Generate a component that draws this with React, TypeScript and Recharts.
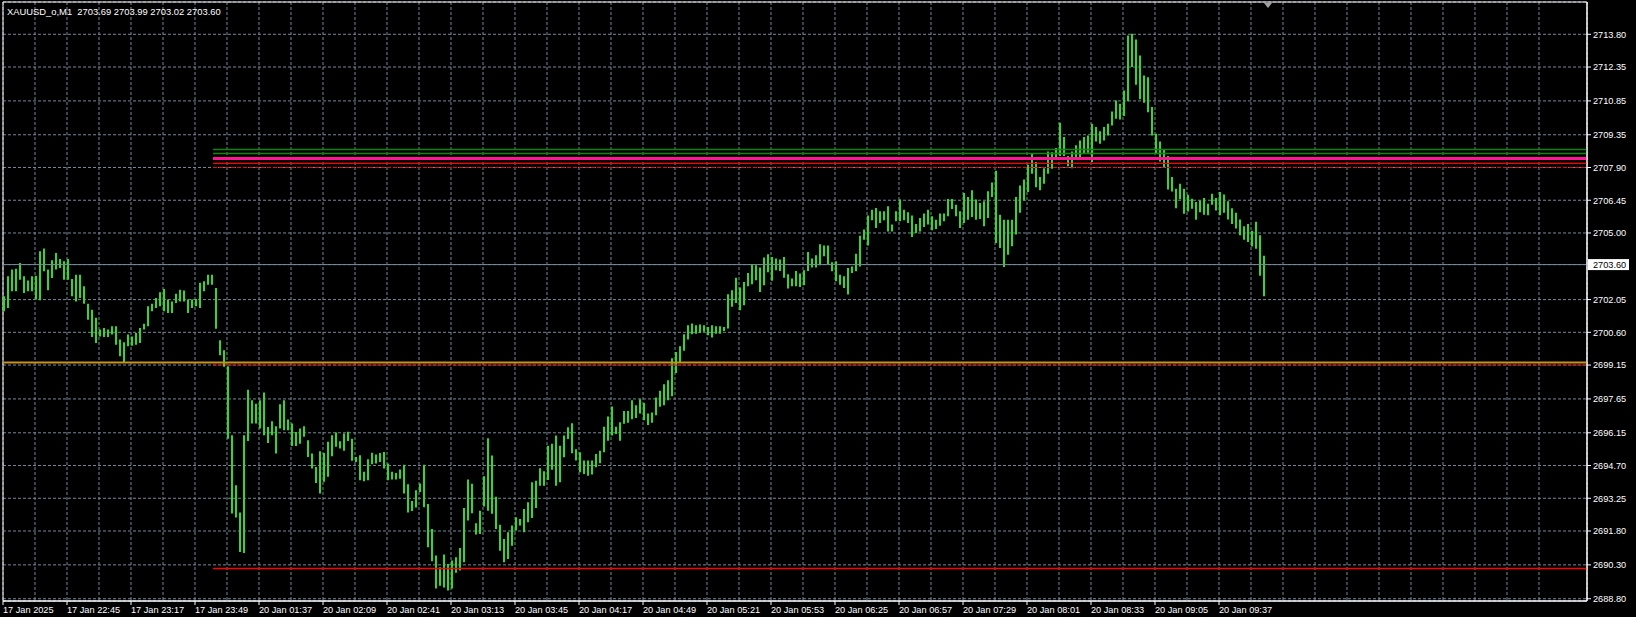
import React from 'react'
import { ComposedChart, Bar, XAxis, YAxis, CartesianGrid, ReferenceLine, ReferenceArea, ReferenceDot } from 'recharts'

const symbolTitle = 'XAUUSD_o,M1  2703.69 2703.99 2703.02 2703.60'

// one label every 32 M1 bars
const timeLabels = [
  '17 Jan 2025', '17 Jan 22:45', '17 Jan 23:17', '17 Jan 23:49', '20 Jan 01:37',
  '20 Jan 02:09', '20 Jan 02:41', '20 Jan 03:13', '20 Jan 03:45', '20 Jan 04:17',
  '20 Jan 04:49', '20 Jan 05:21', '20 Jan 05:53', '20 Jan 06:25', '20 Jan 06:57',
  '20 Jan 07:29', '20 Jan 08:01', '20 Jan 08:33', '20 Jan 09:05', '20 Jan 09:37',
]

const priceTicks = [
  2688.8, 2690.3, 2691.8, 2693.25, 2694.7, 2696.15, 2697.65, 2699.15, 2700.6,
  2702.05, 2703.6, 2705.0, 2706.45, 2707.9, 2709.35, 2710.85, 2712.35, 2713.8,
]
const bidPrice = 2703.6

// high / low of each pair of M1 bars, left to right
const highs = [
  2702.20, 2703.08, 2703.38, 2703.41, 2703.67, 2703.08, 2702.90, 2703.08, 2703.11, 2704.19,
  2704.31, 2703.38, 2703.79, 2704.11, 2703.85, 2703.75, 2703.85, 2702.96, 2703.15, 2703.15,
  2702.64, 2701.87, 2701.60, 2701.24, 2700.72, 2700.79, 2700.72, 2700.87, 2700.87, 2700.28,
  2700.16, 2700.50, 2700.42, 2700.57, 2700.79, 2700.98, 2701.75, 2701.87, 2702.12, 2702.37,
  2702.52, 2702.05, 2701.97, 2702.31, 2702.49, 2702.45, 2702.05, 2702.05, 2702.08, 2702.79,
  2702.86, 2703.15, 2703.15, 2702.56, 2700.25, 2699.81, 2699.10, 2696.04, 2693.83, 2692.62,
  2696.04, 2698.06, 2697.59, 2697.44, 2697.59, 2697.93, 2696.41, 2696.66, 2696.44, 2697.41,
  2697.59, 2696.74, 2696.56, 2696.19, 2696.34, 2696.44, 2695.82, 2695.23, 2694.64, 2695.33,
  2695.26, 2695.75, 2696.04, 2696.16, 2695.78, 2696.12, 2696.20, 2695.89, 2695.08, 2695.16,
  2694.42, 2694.98, 2695.27, 2695.19, 2695.26, 2695.30, 2694.79, 2694.42, 2694.37, 2694.52,
  2694.74, 2693.87, 2693.13, 2693.61, 2693.90, 2694.73, 2693.00, 2691.89, 2690.71, 2690.20,
  2690.76, 2690.34, 2690.49, 2690.64, 2691.05, 2692.82, 2694.08, 2693.89, 2692.14, 2692.70,
  2694.23, 2695.91, 2695.14, 2693.32, 2692.08, 2691.45, 2691.75, 2692.04, 2692.41, 2692.33,
  2692.78, 2693.07, 2693.96, 2694.03, 2694.58, 2694.45, 2695.58, 2695.66, 2696.03, 2695.58,
  2696.03, 2696.40, 2696.57, 2695.42, 2695.29, 2694.92, 2694.92, 2694.92, 2695.21, 2695.36,
  2696.42, 2696.87, 2697.31, 2696.42, 2696.62, 2697.12, 2697.12, 2697.59, 2697.37, 2697.64,
  2697.47, 2697.00, 2697.05, 2697.71, 2698.01, 2698.30, 2698.48, 2699.45, 2699.73, 2699.98,
  2700.51, 2700.91, 2700.99, 2700.91, 2700.95, 2700.91, 2700.84, 2700.91, 2700.87, 2700.87,
  2700.84, 2702.29, 2702.46, 2703.02, 2702.58, 2702.83, 2703.23, 2703.62, 2703.57, 2703.47,
  2703.91, 2704.06, 2703.94, 2703.87, 2703.83, 2703.94, 2703.17, 2702.98, 2703.32, 2703.20,
  2703.35, 2704.16, 2703.87, 2704.01, 2704.50, 2704.44, 2704.44, 2703.70, 2703.75, 2703.15,
  2703.08, 2703.45, 2703.52, 2704.08, 2704.88, 2705.15, 2705.77, 2706.03, 2706.11, 2705.96,
  2705.96, 2706.18, 2705.37, 2705.96, 2706.48, 2706.03, 2705.92, 2705.77, 2705.40, 2705.66,
  2705.86, 2706.03, 2705.74, 2705.59, 2705.86, 2705.86, 2706.51, 2706.51, 2706.25, 2705.96,
  2706.77, 2706.59, 2706.89, 2706.48, 2706.33, 2706.40, 2706.85, 2707.24, 2707.76, 2705.81,
  2705.59, 2705.59, 2705.59, 2706.59, 2707.10, 2707.37, 2708.02, 2708.51, 2708.14, 2707.48,
  2707.87, 2708.61, 2708.58, 2708.76, 2709.88, 2709.25, 2708.41, 2708.61, 2708.88, 2709.10,
  2709.25, 2709.32, 2709.84, 2709.69, 2709.50, 2709.69, 2709.84, 2710.38, 2710.87, 2710.72,
  2711.31, 2713.75, 2713.82, 2713.57, 2712.86, 2711.98, 2711.90, 2710.58, 2709.39, 2709.05,
  2708.70, 2708.41, 2707.48, 2706.96, 2707.18, 2706.96, 2706.69, 2706.52, 2706.37, 2706.44,
  2706.55, 2706.29, 2706.74, 2706.55, 2706.81, 2706.70, 2706.40, 2706.10, 2705.90, 2705.60,
  2705.30, 2705.40, 2705.10, 2705.50, 2704.90, 2703.99,
]
const lows = [
  2701.53, 2701.68, 2702.42, 2702.42, 2702.93, 2702.34, 2702.42, 2702.42, 2702.05, 2702.02,
  2703.30, 2702.46, 2703.01, 2703.38, 2703.45, 2702.93, 2702.93, 2702.20, 2701.97, 2702.12,
  2701.87, 2701.16, 2700.39, 2700.13, 2700.42, 2700.39, 2700.39, 2700.50, 2700.05, 2699.54,
  2699.24, 2699.98, 2700.01, 2700.05, 2700.13, 2700.72, 2700.87, 2701.53, 2701.68, 2701.75,
  2701.53, 2701.46, 2701.46, 2701.90, 2701.97, 2701.97, 2701.46, 2701.68, 2701.75, 2701.68,
  2702.42, 2702.71, 2702.71, 2700.76, 2699.58, 2699.07, 2695.89, 2692.57, 2692.40, 2690.87,
  2690.83, 2695.79, 2696.56, 2696.56, 2696.34, 2696.04, 2695.70, 2696.04, 2695.23, 2696.34,
  2696.26, 2696.26, 2695.57, 2695.57, 2695.67, 2695.97, 2695.08, 2694.57, 2693.93, 2693.46,
  2693.98, 2694.20, 2695.11, 2695.53, 2695.45, 2695.35, 2695.79, 2694.91, 2694.86, 2694.05,
  2694.00, 2694.05, 2694.76, 2694.79, 2694.86, 2694.57, 2694.05, 2694.08, 2694.08, 2694.12,
  2693.46, 2692.62, 2692.69, 2692.84, 2693.53, 2692.85, 2691.08, 2690.46, 2689.25, 2689.37,
  2689.30, 2689.16, 2689.25, 2689.95, 2690.05, 2690.42, 2692.26, 2692.59, 2691.64, 2691.67,
  2692.88, 2692.70, 2692.56, 2691.89, 2690.93, 2690.42, 2690.56, 2691.15, 2691.82, 2692.04,
  2691.75, 2692.19, 2692.38, 2692.82, 2693.81, 2693.81, 2694.06, 2694.51, 2693.81, 2693.96,
  2695.07, 2695.88, 2695.24, 2694.92, 2694.40, 2694.33, 2694.25, 2694.30, 2694.62, 2694.80,
  2695.29, 2695.80, 2696.03, 2696.10, 2695.80, 2696.55, 2696.60, 2696.75, 2696.80, 2697.00,
  2696.70, 2696.50, 2696.60, 2696.93, 2697.30, 2697.37, 2697.59, 2697.77, 2698.80, 2699.29,
  2699.78, 2700.28, 2700.51, 2700.54, 2700.57, 2700.62, 2700.47, 2700.37, 2700.54, 2700.54,
  2700.66, 2700.77, 2701.73, 2701.90, 2701.58, 2701.80, 2702.64, 2702.73, 2702.91, 2702.39,
  2702.69, 2703.26, 2702.88, 2703.35, 2703.32, 2703.02, 2702.54, 2702.64, 2702.64, 2702.61,
  2702.69, 2703.32, 2703.47, 2703.47, 2703.57, 2703.97, 2703.60, 2703.30, 2702.86, 2702.71,
  2702.56, 2702.27, 2703.23, 2703.30, 2703.52, 2704.70, 2704.44, 2705.56, 2705.22, 2705.44,
  2705.56, 2705.07, 2705.07, 2705.52, 2705.52, 2705.56, 2705.44, 2704.82, 2705.00, 2705.07,
  2705.27, 2705.37, 2705.12, 2705.18, 2705.32, 2705.52, 2705.74, 2706.06, 2705.74, 2705.22,
  2705.44, 2705.59, 2705.71, 2705.59, 2705.62, 2705.30, 2705.66, 2706.59, 2704.56, 2704.34,
  2703.49, 2704.04, 2704.41, 2704.93, 2705.90, 2706.44, 2706.81, 2707.62, 2707.03, 2706.89,
  2707.18, 2707.62, 2707.84, 2708.32, 2708.41, 2708.41, 2707.96, 2707.87, 2708.29, 2708.32,
  2708.51, 2708.55, 2708.14, 2709.05, 2708.95, 2709.10, 2709.32, 2709.76, 2710.06, 2710.03,
  2710.18, 2710.83, 2712.35, 2711.56, 2710.92, 2710.77, 2710.35, 2709.32, 2708.51, 2708.17,
  2707.92, 2706.93, 2706.84, 2706.10, 2706.49, 2705.85, 2705.95, 2706.07, 2705.59, 2705.92,
  2705.81, 2705.78, 2706.25, 2706.00, 2705.78, 2705.90, 2705.60, 2705.40, 2705.20, 2704.90,
  2704.70, 2704.60, 2704.40, 2704.30, 2703.10, 2702.20,
]

// horizontal levels drawn on the chart (from = first bar index)
const levels = [
  { price: 2708.70, from: 105, color: '#0b870b', width: 1.4, dash: '' },
  { price: 2708.52, from: 105, color: '#0b870b', width: 1.4, dash: '' },
  { price: 2708.30, from: 105, color: '#ff1493', width: 3, dash: '' },
  { price: 2708.08, from: 105, color: '#ff0000', width: 1.2, dash: '' },
  { price: 2707.90, from: 105, color: '#ff0000', width: 1, dash: '4 2' },
  { price: 2699.26, from: 0, color: '#c8921e', width: 2, dash: '' },
  { price: 2699.15, from: 105, color: '#ff0000', width: 1, dash: '4 2' },
  { price: 2690.14, from: 105, color: '#ff0000', width: 1.5, dash: '' },
]

const totalBars = 792
const shiftMarkerBar = 632.5
const yMin = 2688.7
const yMax = 2715.23

const data = highs.map((h, k) => ({ x: 2 * k + 0.5, range: [lows[k], h] }))
const gridTicks = Array.from({ length: totalBars / 16 }, (_, k) => k * 16)

const font = '"Liberation Sans", Arial, sans-serif'

function TimeTick(props: any) {
  const { x, y, payload } = props
  const i = payload.value
  if (i % 32 !== 0) return null
  const label = timeLabels[i / 32]
  if (!label) return null
  return (
    <g>
      <line x1={x} y1={y} x2={x} y2={y + 4} stroke="#fff" />
      <text x={x} y={y + 12} fill="#fff" fontSize={9.2} fontFamily={font} textAnchor="start">{label}</text>
    </g>
  )
}

function PriceTick(props: any) {
  const { x, y, payload } = props
  const v = payload.value
  if (v === bidPrice) {
    return (
      <g>
        <rect x={x + 1} y={y - 5.5} width={41} height={11} fill="#fff" />
        <text x={x + 6} y={y + 3.4} fill="#000" fontSize={9.2} fontFamily={font}>{v.toFixed(2)}</text>
      </g>
    )
  }
  return (
    <g>
      <line x1={x} y1={y} x2={x + 4} y2={y} stroke="#fff" />
      <text x={x + 6} y={y + 3.4} fill="#fff" fontSize={9.2} fontFamily={font}>{v.toFixed(2)}</text>
    </g>
  )
}

export default function App() {
  return (
    <div style={{ position: 'fixed', left: 0, top: 0, width: 1636, height: 617, background: '#000' }}>
      <ComposedChart width={1636} height={617} data={data} margin={{ top: 2, right: 0, bottom: 0, left: 3 }}>
        <CartesianGrid stroke="#778899" strokeDasharray="3 2" />
        <XAxis
          type="number" dataKey="x" domain={[0, totalBars]} ticks={gridTicks} interval={0}
          allowDataOverflow height={16} tickLine={false} tickSize={0} tickMargin={0}
          axisLine={{ stroke: '#fff' }} tick={<TimeTick />}
        />
        <YAxis
          orientation="right" type="number" domain={[yMin, yMax]} ticks={priceTicks} interval={0}
          allowDataOverflow width={49} tickLine={false} tickSize={0} tickMargin={0}
          axisLine={{ stroke: '#fff' }} tick={<PriceTick />}
        />
        <ReferenceArea x1={0} x2={totalBars} y1={yMin} y2={yMax} fill="none" stroke="#fff" />
        <ReferenceLine y={bidPrice} stroke="#778899" />
        {levels.map((l) => (
          <ReferenceLine
            key={l.price}
            segment={[{ x: l.from, y: l.price }, { x: totalBars, y: l.price }]}
            stroke={l.color} strokeWidth={l.width} strokeDasharray={l.dash || undefined}
          />
        ))}
        <Bar dataKey="range" fill="#33d82a" barSize={2} isAnimationActive={false} />
        <ReferenceDot
          x={shiftMarkerBar} y={yMax} ifOverflow="visible"
          shape={(p: any) => (
            <polygon points={`${p.cx - 4},${p.cy + 1} ${p.cx + 4},${p.cy + 1} ${p.cx},${p.cy + 6}`} fill="#a0a0a0" />
          )}
        />
      </ComposedChart>
      <div style={{ position: 'absolute', left: 7, top: 6, color: '#fff', fontFamily: font, fontSize: 9.4, lineHeight: '11px', whiteSpace: 'pre' }}>
        {symbolTitle}
      </div>
    </div>
  )
}
